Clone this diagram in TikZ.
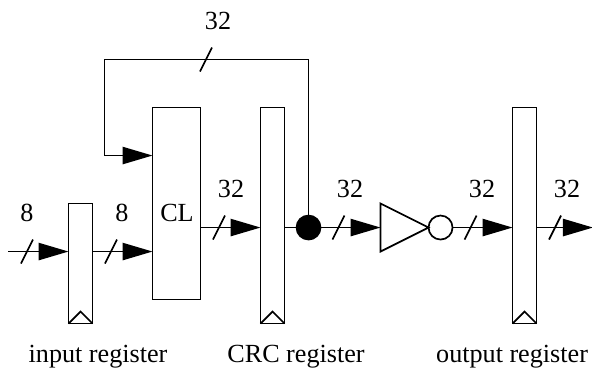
\documentclass[tikz,border=0pt]{standalone}
\usepackage{fontspec}
\setmainfont{Liberation Serif}
\usetikzlibrary{arrows.meta,calc,shapes.geometric}

\newcommand{\busmark}[1]{\draw[wire] ($(#1)+(-0.25,-0.5)$) -- ($(#1)+(0.25,0.5)$);}

\begin{document}
\begin{tikzpicture}[
    every node/.style={font=\fontsize{31}{36}\selectfont},
    wire/.style={line width=2pt},
    bus/.style={wire, line join=miter, -{Triangle[length=1.25cm,width=0.72cm]}},
    block/.style={draw, line width=2pt, inner sep=0pt, outer sep=0pt, anchor=south west},
    register/.style={block, minimum width=1cm, minimum height=9cm},
    bubble/.style={draw, circle, line width=2pt, minimum size=1cm, inner sep=0pt, outer sep=0pt}
]
\useasboundingbox (-0.854,-2.02) rectangle (23.81,13.48);

% Registers and logic
\node[register, minimum height=5cm] (inreg) at (2,0) {};
\node[block, minimum width=2cm, minimum height=8cm] (cl) at (5.5,1) {};
\node[register] (crcreg) at (10,0) {};
\node[register] (outreg) at (20.5,0) {};
\node at (6.52,4.6) (cltext) {CL};

% Clock marks
\draw[wire] (inreg.south west) -- ($(inreg.south)+(0,0.5)$) -- (inreg.south east);
\draw[wire] (crcreg.south west) -- ($(crcreg.south)+(0,0.5)$) -- (crcreg.south east);
\draw[wire] (outreg.south west) -- ($(outreg.south)+(0,0.5)$) -- (outreg.south east);

% Inverter
\node[draw, isosceles triangle, isosceles triangle stretches, line width=2pt,
      minimum width=2cm, minimum height=2cm, inner sep=0pt, outer sep=0pt,
      anchor=lower side] (inv) at (15,4) {};
\node[bubble] (notc) at (17.5,4) {};
\node[bubble, fill=black] (dot) at (12,4) {};

% Free ends and corners
\coordinate (start) at (-0.5,3);
\coordinate (end) at (23.85,4);
\coordinate (topr) at (12,11);
\coordinate (topl) at (3.5,11);
\coordinate (back) at (3.5,7);

% Connectors
\draw[bus] (start) -- (start -| inreg.west);
\draw[bus] (start -| inreg.east) -- (start -| cl.west);
\draw[bus] (cl.east |- dot) -- (crcreg.west |- dot);
\draw[wire] (crcreg.east |- dot) -- (dot);
\draw[bus] (dot) -- (inv.lower side |- dot);
\draw[bus] (notc) -- (outreg.west |- notc);
\draw[bus] (outreg.east |- notc) -- (end);
\draw[bus] (dot) -- (topr) -- (topl) -- (back) -- (back -| cl.west);

% Bus marks
\coordinate (m1) at (0.27,3);
\coordinate (m2) at (3.77,3);
\coordinate (m3) at (8.27,4);
\coordinate (m4) at (13.25,4);
\coordinate (m5) at (18.75,4);
\coordinate (m6) at (22.27,4);
\coordinate (m7) at (7.73,11);
\busmark{m1}
\busmark{m2}
\busmark{m3}
\busmark{m4}
\busmark{m5}
\busmark{m6}
\busmark{m7}

% Widths
\node (w1) at (0.27,4.6) {8};
\node (w2) at (4.23,4.6) {8};
\node (w3) at (8.77,5.6) {32};
\node (w4) at (13.73,5.6) {32};
\node (w5) at (19.23,5.6) {32};
\node (w6) at (22.77,5.6) {32};
\node (w7) at (8.23,12.6) {32};

% Captions
\node (inlabel) at (3.23,-1.4) {input register};
\node (crclabel) at (11.48,-1.4) {CRC register};
\node (outlabel) at (20.48,-1.4) {output register};

\end{tikzpicture}
\end{document}
